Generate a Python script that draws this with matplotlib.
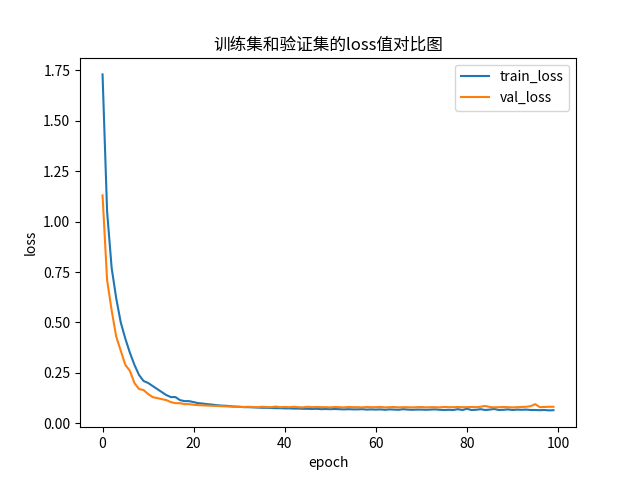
import matplotlib
matplotlib.use('Agg')
import matplotlib.pyplot as plt

plt.rcParams['font.family'] = ['Noto Sans CJK SC', 'DejaVu Sans']
plt.rcParams['axes.unicode_minus'] = False

train_loss = [
    1.73, 1.05, 0.77, 0.62, 0.50, 0.42, 0.35, 0.29, 0.24, 0.21,
    0.20, 0.185, 0.17, 0.155, 0.14, 0.13, 0.13, 0.115, 0.11, 0.11,
    0.105, 0.100, 0.098, 0.095, 0.093, 0.090, 0.088, 0.087, 0.085, 0.083,
    0.082, 0.080, 0.080, 0.079, 0.078, 0.077, 0.077, 0.076, 0.075, 0.075,
    0.074, 0.074, 0.073, 0.073, 0.072, 0.072, 0.071, 0.072, 0.070, 0.071,
    0.070, 0.071, 0.070, 0.069, 0.070, 0.069, 0.069, 0.070, 0.068, 0.069,
    0.068, 0.069, 0.067, 0.069, 0.068, 0.067, 0.070, 0.068, 0.067, 0.068,
    0.068, 0.067, 0.068, 0.069, 0.067, 0.066, 0.067, 0.066, 0.070, 0.066,
    0.072, 0.066, 0.067, 0.070, 0.066, 0.068, 0.071, 0.066, 0.067, 0.069,
    0.066, 0.068, 0.067, 0.068, 0.066, 0.066, 0.065, 0.066, 0.064, 0.065,
]
val_loss = [
    1.13, 0.71, 0.56, 0.43, 0.36, 0.29, 0.26, 0.20, 0.17, 0.165,
    0.145, 0.13, 0.125, 0.12, 0.115, 0.105, 0.10, 0.10, 0.095, 0.095,
    0.092, 0.090, 0.089, 0.088, 0.087, 0.086, 0.085, 0.084, 0.083, 0.082,
    0.082, 0.081, 0.082, 0.081, 0.080, 0.082, 0.081, 0.080, 0.083, 0.080,
    0.081, 0.080, 0.082, 0.080, 0.079, 0.082, 0.080, 0.081, 0.080, 0.080,
    0.079, 0.081, 0.080, 0.079, 0.081, 0.080, 0.080, 0.079, 0.081, 0.080,
    0.080, 0.081, 0.079, 0.080, 0.081, 0.079, 0.080, 0.080, 0.079, 0.080,
    0.081, 0.079, 0.080, 0.080, 0.079, 0.081, 0.080, 0.080, 0.081, 0.080,
    0.080, 0.081, 0.080, 0.082, 0.086, 0.081, 0.079, 0.080, 0.081, 0.080,
    0.079, 0.080, 0.081, 0.082, 0.085, 0.095, 0.080, 0.081, 0.082, 0.082,
]
epochs = list(range(len(train_loss)))

fig, ax = plt.subplots(figsize=(6.4, 4.8), dpi=100)
ax.plot(epochs, train_loss, label='train_loss')
ax.plot(epochs, val_loss, label='val_loss')
ax.set_title('训练集和验证集的loss值对比图')
ax.set_xlabel('epoch')
ax.set_ylabel('loss')
ax.legend()
plt.savefig('out.png')
